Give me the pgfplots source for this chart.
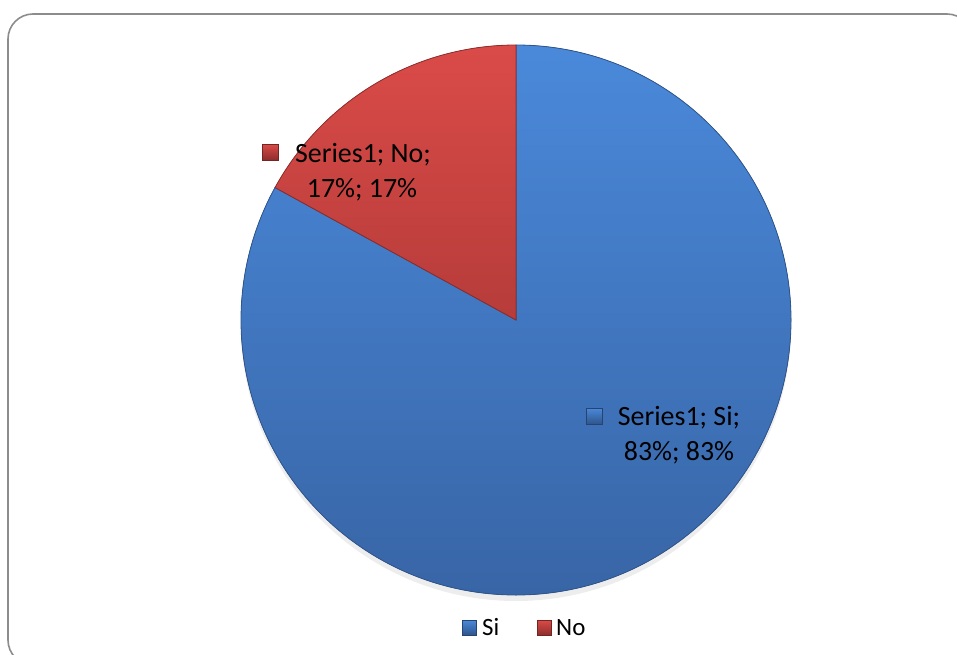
\documentclass[border=0pt]{standalone}
\usepackage{pgfplots}
\pgfplotsset{compat=1.18}
\usepackage{pgfplotstable}
\usepackage{fontspec}
\setmainfont{Carlito}
\definecolor{siTop}{HTML}{4A89DA}
\definecolor{siBot}{HTML}{3865A6}
\definecolor{siEdge}{HTML}{2F558C}
\definecolor{noTop}{HTML}{DA4B48}
\definecolor{noBot}{HTML}{B63C3A}
\definecolor{noEdge}{HTML}{8E2E2C}
\definecolor{frame}{HTML}{8C8C8C}
\pgfplotstableread{
label value
Si 83
No 17
}\piedata
\pgfplotstablegetelem{0}{value}\of\piedata \let\valSi\pgfplotsretval
\pgfplotstablegetelem{1}{value}\of\piedata \let\valNo\pgfplotsretval
\pgfmathsetmacro\angNo{90+360*\valNo/(\valSi+\valNo)}
\begin{document}
\begin{tikzpicture}
\useasboundingbox (0,0) rectangle (957bp,655bp);
\clip (0,0) rectangle (957bp,655bp);
\begin{axis}[
  at={(0,0)}, anchor=south west,
  scale only axis, width=957bp, height=655bp,
  xmin=0, xmax=957, ymin=0, ymax=655, y dir=reverse,
  hide axis, clip=false,
]
% frame
\draw[frame, line width=1.6bp, rounded corners=25bp] (axis cs:8,14) rectangle (axis cs:972,665);
% shadow
\fill[black, opacity=0.07] (axis cs:516,326) circle[radius=275bp];
% Si slice
\fill[top color=siTop, bottom color=siBot, draw=siEdge, line width=0.8bp]
  (axis cs:516,320) -- (axis cs:516,45) arc[start angle=90, end angle=\angNo-360, radius=275bp] -- cycle;
% No slice
\fill[top color=noTop, bottom color=noBot, draw=noEdge, line width=0.8bp]
  (axis cs:516,320) -- (axis cs:516,45) arc[start angle=90, end angle=\angNo, radius=275bp] -- cycle;
% data labels
\fill[top color=noTop, bottom color=noEdge, draw=noEdge!80!black, line width=0.4bp]
  (axis cs:262,144) rectangle (axis cs:278,160);
\node[anchor=base, inner sep=0pt, font=\fontsize{28}{34}\selectfont] at (axis cs:363,162) {Series1; No;};
\node[anchor=base, inner sep=0pt, font=\fontsize{28}{34}\selectfont] at (axis cs:362,197) {17\%; 17\%};
\fill[top color=siTop, bottom color=siEdge, draw=siEdge!80!black, line width=0.4bp]
  (axis cs:586,408) rectangle (axis cs:602,424);
\node[anchor=base, inner sep=0pt, font=\fontsize{28}{34}\selectfont] at (axis cs:679,425) {Series1; Si;};
\node[anchor=base, inner sep=0pt, font=\fontsize{28}{34}\selectfont] at (axis cs:679,460) {83\%; 83\%};
% legend
\fill[top color=siTop, bottom color=siEdge, draw=siEdge!80!black, line width=0.4bp]
  (axis cs:462,620) rectangle (axis cs:476,635);
\node[anchor=base west, inner sep=0pt, font=\fontsize{25}{30}\selectfont] at (axis cs:482,635) {Si};
\fill[top color=noTop, bottom color=noEdge, draw=noEdge!80!black, line width=0.4bp]
  (axis cs:537,620) rectangle (axis cs:551,635);
\node[anchor=base west, inner sep=0pt, font=\fontsize{25}{30}\selectfont] at (axis cs:556,635) {No};
\end{axis}
\end{tikzpicture}
\end{document}
